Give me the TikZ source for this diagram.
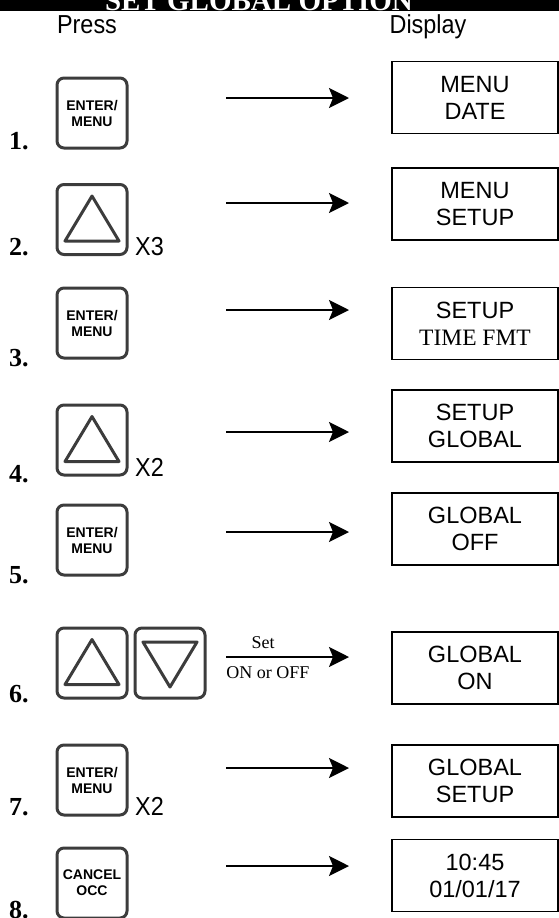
\documentclass[tikz,border=0pt]{standalone}
\usepackage{fontspec}
\setmainfont{Liberation Serif}
\setsansfont{Liberation Sans}
\newfontfamily\narrowsans[FakeStretch=0.9]{Liberation Sans}
\usetikzlibrary{arrows.meta}
\definecolor{keygray}{HTML}{3C3C3C}
\begin{document}
\begin{tikzpicture}[x=1pt,y=-1pt,
  keybox/.style={draw=keygray, line width=3pt, rounded corners=7pt, minimum width=70pt, minimum height=70pt, inner sep=0pt, align=center, font=\sffamily\bfseries\fontsize{14}{16}\selectfont},
  disp/.style={draw, line width=1.5pt, minimum width=166pt, minimum height=72pt, inner sep=0pt, align=center, font=\sffamily\fontsize{23.5}{27}\selectfont},
  tri/.style={draw=keygray, line width=3pt, line join=round},
  num/.style={anchor=base west, inner sep=0pt, font=\bfseries\fontsize{26}{26}\selectfont},
  narrow/.style={anchor=base west, inner sep=0pt, font=\narrowsans\fontsize{26}{26}\selectfont},
  arr/.style={line width=2pt, -{Stealth[length=20pt,width=20pt,inset=4pt]}},
  small/.style={inner sep=0pt, font=\fontsize{18}{18}\selectfont}
]
\useasboundingbox (0,0) rectangle (559,918);
\fill[black] (0,0) rectangle (559,11);
\begin{scope}
\clip (0,0) rectangle (559,11);
\node[anchor=base, text=white, inner sep=0pt, font=\bfseries\fontsize{29}{29}\selectfont] (title) at (259,10.5) {SET GLOBAL OPTION};
\end{scope}
\node[anchor=base, inner sep=0pt, font=\narrowsans\fontsize{26}{26}\selectfont] (press) at (87,33) {Press};
\node[anchor=base, inner sep=0pt, font=\narrowsans\fontsize{26}{26}\selectfont] (display) at (428,33) {Display};

% Row 1
\node[num] (n1) at (9,149) {1.};
\node[keybox] (k1) at (92,113) {ENTER/\\MENU};
\node[disp] (d1) at (475,97.5) {MENU\\DATE};
\coordinate (s1) at (226,98); \coordinate (e1) at (349,98);
\draw[arr] (s1) -- (e1);

% Row 2
\node[num] (n2) at (9,255) {2.};
\node[keybox] (k2) at (92,219.5) {};
\draw[tri] ([shift={(0,-23.5)}]k2.center) -- ++(27,45) -- ++(-54,0) -- cycle;
\node[narrow] (x2) at (135,255) {X3};
\node[disp] (d2) at (475,204) {MENU\\SETUP};
\coordinate (s2) at (226,203); \coordinate (e2) at (349,203);
\draw[arr] (s2) -- (e2);

% Row 3
\node[num] (n3) at (9,366) {3.};
\node[keybox] (k3) at (92,323) {ENTER/\\MENU};
\node[disp] (d3) at (475,323.5) {SETUP\\{\rmfamily TIME FMT}};
\coordinate (s3) at (226,310); \coordinate (e3) at (349,310);
\draw[arr] (s3) -- (e3);

% Row 4
\node[num] (n4) at (9,482) {4.};
\node[keybox] (k4) at (92,440) {};
\draw[tri] ([shift={(0,-23.5)}]k4.center) -- ++(27,45) -- ++(-54,0) -- cycle;
\node[narrow] (x4) at (135,476) {X2};
\node[disp] (d4) at (475,426) {SETUP\\GLOBAL};
\coordinate (s4) at (226,432); \coordinate (e4) at (349,432);
\draw[arr] (s4) -- (e4);

% Row 5
\node[num] (n5) at (9,583) {5.};
\node[keybox] (k5) at (92,540) {ENTER/\\MENU};
\node[disp] (d5) at (475,529) {GLOBAL\\OFF};
\coordinate (s5) at (226,532); \coordinate (e5) at (349,532);
\draw[arr] (s5) -- (e5);

% Row 6
\node[num] (n6) at (9,702) {6.};
\node[keybox] (k6a) at (92,663) {};
\draw[tri] ([shift={(0,-23.5)}]k6a.center) -- ++(27,45) -- ++(-54,0) -- cycle;
\node[keybox] (k6b) at (170,663) {};
\draw[tri] ([shift={(-27,-21)}]k6b.center) -- ++(54,0) -- ++(-27,45) -- cycle;
\node[disp] (d6) at (475,668) {GLOBAL\\ON};
\coordinate (s6) at (226,657); \coordinate (e6) at (349,657);
\draw[arr] (s6) -- (e6);
\node[small, anchor=base] (set) at (263,648) {Set};
\node[small, anchor=base] (onoff) at (268,678) {ON or OFF};

% Row 7
\node[num] (n7) at (9,815) {7.};
\node[keybox] (k7) at (92,780) {ENTER/\\MENU};
\node[narrow] (x7) at (135,815) {X2};
\node[disp] (d7) at (475,781) {GLOBAL\\SETUP};
\coordinate (s7) at (226,768); \coordinate (e7) at (349,768);
\draw[arr] (s7) -- (e7);

% Row 8
\node[num] (n8) at (9,918) {8.};
\node[keybox] (k8) at (92,883) {CANCEL\\OCC};
\node[disp] (d8) at (475,875.5) {10:45\\01/01/17};
\coordinate (s8) at (226,866); \coordinate (e8) at (349,866);
\draw[arr] (s8) -- (e8);
\end{tikzpicture}
\end{document}
